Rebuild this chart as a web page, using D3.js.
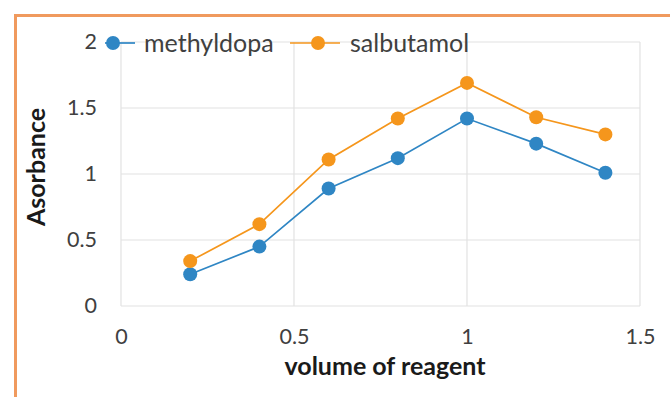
<!DOCTYPE html>
<html lang="en">
  <head>
    <meta charset="utf-8">
    <title>Absorbance vs volume of reagent</title>
    <script src="https://cdnjs.cloudflare.com/ajax/libs/d3/7.8.5/d3.min.js"></script>
  </head>

  <style media="screen">
    body {
      margin: 0;
      background: white;
    }

    text {
      font-family: Lato, "Open Sans", sans-serif;
      fill: #404040;
    }

    .axis-title {
      font-weight: bold;
      fill: #1a1a1a;
    }

    .grid line {
      stroke: #e2e2e2;
      stroke-width: 1.2;
    }
  </style>

  <body>
    <script type="text/javascript">
      // Data
      const volumes = [0.2, 0.4, 0.6, 0.8, 1.0, 1.2, 1.4];
      const methyldopa = [0.24, 0.45, 0.89, 1.12, 1.42, 1.23, 1.01];
      const salbutamol = [0.34, 0.62, 1.11, 1.42, 1.69, 1.43, 1.30];
      const xTicks = [0, 0.5, 1, 1.5];
      const yTicks = [0, 0.5, 1, 1.5, 2];

      const series = [
        { name: "methyldopa", values: methyldopa, color: "#2f86c4" },
        { name: "salbutamol", values: salbutamol, color: "#f5961c" }
      ];

      const w = 670;
      const h = 397;

      const xScale = d3.scaleLinear()
                       .domain([0, 1.5])
                       .range([121, 640]);

      const yScale = d3.scaleLinear()
                       .domain([0, 2])
                       .range([306, 42]);

      const svg = d3.select("body")
                    .append("svg")
                    .attr("width", w)
                    .attr("height", h);

      // orange frame (only top and left are inside the crop)
      svg.append("path")
         .attr("d", "M15.5," + h + " L15.5,15.5 L" + w + ",15.5")
         .attr("fill", "none")
         .attr("stroke", "#f09a5e")
         .attr("stroke-width", 3);

      // gridlines
      svg.append("g")
         .attr("class", "grid")
         .selectAll("line")
         .data(yTicks)
         .enter()
         .append("line")
         .attr("x1", xScale(0))
         .attr("x2", xScale(1.5))
         .attr("y1", d => yScale(d))
         .attr("y2", d => yScale(d));

      svg.append("g")
         .attr("class", "grid")
         .selectAll("line")
         .data(xTicks)
         .enter()
         .append("line")
         .attr("x1", d => xScale(d))
         .attr("x2", d => xScale(d))
         .attr("y1", yScale(0))
         .attr("y2", yScale(2));

      // axes, labels only
      const fmt = d3.format("~g");
      const xAxis = d3.axisBottom(xScale).tickValues(xTicks).tickFormat(fmt).tickSize(0).tickPadding(0);
      const yAxis = d3.axisLeft(yScale).tickValues(yTicks).tickFormat(fmt).tickSize(0).tickPadding(0);

      const gx = svg.append("g")
                    .attr("transform", "translate(0," + 329 + ")")
                    .call(xAxis);
      gx.select(".domain").remove();
      gx.selectAll("text")
        .attr("font-size", 21.5)
        .attr("font-family", null)
        .attr("fill", null);

      const gy = svg.append("g")
                    .attr("transform", "translate(" + 97 + ",0)")
                    .call(yAxis);
      gy.select(".domain").remove();
      gy.selectAll("text")
        .attr("font-size", 21.5)
        .attr("font-family", null)
        .attr("fill", null);

      // lines and markers
      const line = d3.line()
                     .x((d, i) => xScale(volumes[i]))
                     .y(d => yScale(d));

      series.forEach(s => {
        svg.append("path")
           .datum(s.values)
           .attr("d", line)
           .attr("fill", "none")
           .attr("stroke", s.color)
           .attr("stroke-width", 1.7);

        svg.selectAll(null)
           .data(s.values)
           .enter()
           .append("circle")
           .attr("cx", (d, i) => xScale(volumes[i]))
           .attr("cy", d => yScale(d))
           .attr("r", 7)
           .attr("fill", s.color);
      });

      // legend
      const legendItems = [
        { x: 105, text: 144 },
        { x: 290, text: 350 }
      ];
      series.forEach((s, i) => {
        const lx = legendItems[i].x;
        const g = svg.append("g");
        g.append("line")
         .attr("x1", lx)
         .attr("x2", lx + 30 + (i * 20))
         .attr("y1", 43)
         .attr("y2", 43)
         .attr("stroke", s.color)
         .attr("stroke-width", 1.7);
        g.append("circle")
         .attr("cx", lx + 8 + (i * 20))
         .attr("cy", 43)
         .attr("r", 7)
         .attr("fill", s.color);
        g.append("text")
         .attr("x", legendItems[i].text)
         .attr("y", 43)
         .attr("dy", "0.35em")
         .attr("font-size", 25)
         .text(s.name);
      });

      // axis titles
      svg.append("text")
         .attr("class", "axis-title")
         .attr("x", 385)
         .attr("y", 375)
         .attr("text-anchor", "middle")
         .attr("font-size", 25)
         .text("volume of reagent");

      svg.append("text")
         .attr("class", "axis-title")
         .attr("transform", "translate(45,167) rotate(-90)")
         .attr("text-anchor", "middle")
         .attr("font-size", 25)
         .text("Asorbance");
    </script>
  </body>
</html>
